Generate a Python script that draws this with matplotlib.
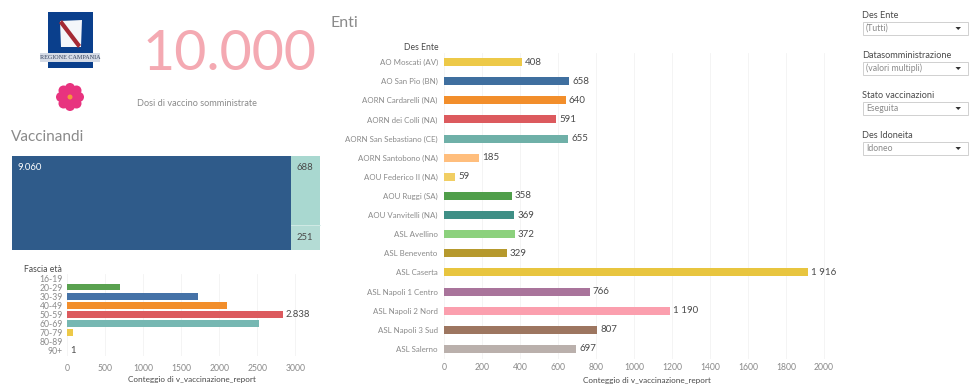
import matplotlib
matplotlib.use("Agg")
import matplotlib.pyplot as plt
from matplotlib.patches import Rectangle, Circle, Polygon

plt.rcParams['font.family'] = ['Lato', 'DejaVu Sans']

W, H = 977, 388

# Dati
fasce = ["16-19", "20-29", "30-39", "40-49", "50-59", "60-69", "70-79", "80-89", "90+"]
fasce_valori = [0, 695, 1720, 2105, 2838, 2525, 80, 0, 1]
fasce_colori = ["#bab0ac", "#59a14f", "#4572a7", "#f28e2b", "#dc5a5e", "#76b7b2", "#edc948", "#bab0ac", "#bab0ac"]

enti = ["AO Moscati (AV)", "AO San Pio (BN)", "AORN Cardarelli (NA)", "AORN dei Colli (NA)",
        "AORN San Sebastiano (CE)", "AORN Santobono (NA)", "AOU Federico II (NA)", "AOU Ruggi (SA)",
        "AOU Vanvitelli (NA)", "ASL Avellino", "ASL Benevento", "ASL Caserta",
        "ASL Napoli 1 Centro", "ASL Napoli 2 Nord", "ASL Napoli 3 Sud", "ASL Salerno"]
enti_valori = [408, 658, 640, 591, 655, 185, 59, 358, 369, 372, 329, 1916, 766, 1190, 807, 697]
enti_colori = ["#edc948", "#3f6f9f", "#f28e2b", "#dc5a5e", "#6fb0a8", "#ffbe7d", "#f1ce63", "#4f9e4a",
               "#3f8f86", "#8cd17d", "#b6992d", "#e8c53f", "#a9749b", "#fb9fae", "#9d7660", "#bab0ac"]

vaccinandi = [9060, 688, 251]
filtri = ["Des Ente", "Datasomministrazione", "Stato vaccinazioni", "Des Idoneita"]
filtri_valori = ["(Tutti)", "(valori multipli)", "Eseguita", "Idoneo"]

GRIGIO = "#8a8a8a"
SCURO = "#4a4a4a"


def crea_assi(x0, y0, x1, y1):
    # rettangolo in pixel, origine in alto a sinistra
    ax = fig.add_axes([x0 / W, 1 - y1 / H, (x1 - x0) / W, (y1 - y0) / H])
    ax.set_facecolor("none")
    for s in ax.spines.values():
        s.set_visible(False)
    return ax


fig = plt.figure(figsize=(W / 100, H / 100), dpi=100, facecolor="white")

# Livello di sfondo in pixel
bg = crea_assi(0, 0, W, H)
bg.set_xlim(0, W)
bg.set_ylim(H, 0)
bg.axis("off")

# Stemma
bg.add_patch(Rectangle((48, 12), 44.5, 56, color="#0a3f8c", lw=0))
bg.add_patch(Polygon([(60, 21), (82, 20), (81, 47), (61, 47)], color="#f4f6fa", lw=0))
bg.add_patch(Polygon([(59, 23), (62, 20), (81, 45), (78, 48)], color="#a52a35", lw=0))
bg.add_patch(Rectangle((40, 53), 60, 9, color="#d5dbe6", lw=0))
bg.text(70, 57.5, "REGIONE CAMPANIA", fontsize=4.4, color="#33405c", ha="center", va="center", family="Liberation Serif")

# Fiore
for dx, dy in [(0, -9), (6.5, -6.5), (9, 0), (6.5, 6.5), (0, 9), (-6.5, 6.5), (-9, 0), (-6.5, -6.5)]:
    bg.add_patch(Circle((70 + dx, 97 + dy), 5, color="#e8337f", lw=0))
bg.add_patch(Circle((70, 97), 6, color="#e8337f", lw=0))
bg.add_patch(Circle((70, 97), 2.5, color="#f4973a", lw=0))

# Titoli e KPI
bg.text(230, 54, "10.000", fontsize=40, color="#f4a9b2", ha="center", va="center")
bg.text(137, 103, "Dosi di vaccino somministrate", fontsize=6.6, color=GRIGIO, va="center")
bg.text(11, 137, "Vaccinandi", fontsize=11, color=GRIGIO, va="center")
bg.text(331, 23, "Enti", fontsize=11.5, color=GRIGIO, va="center")

# Treemap
tx0, tx1, ty0, ty1 = 12, 320, 156, 250
tot = sum(vaccinandi)
xdiv = tx0 + (tx1 - tx0) * vaccinandi[0] / tot
ydiv = ty0 + (ty1 - ty0) * vaccinandi[1] / (vaccinandi[1] + vaccinandi[2])
bg.add_patch(Rectangle((tx0, ty0), xdiv - tx0, ty1 - ty0, color="#2f5b8a", lw=0))
bg.add_patch(Rectangle((xdiv, ty0), tx1 - xdiv, ydiv - ty0, color="#a9d8d0", lw=0))
bg.add_patch(Rectangle((xdiv, ydiv), tx1 - xdiv, ty1 - ydiv, color="#b4dcd5", lw=0))
bg.plot([xdiv, tx1], [ydiv, ydiv], color="#d5ece8", lw=0.6)
bg.text(tx0 + 5, ty0 + 12, f"{vaccinandi[0]:,}".replace(",", "."), fontsize=6.8, color="white", va="center")
bg.text(xdiv + 5, ty0 + 12, str(vaccinandi[1]), fontsize=6.8, color=SCURO, va="center")
bg.text(xdiv + 5, ydiv + 13, str(vaccinandi[2]), fontsize=6.8, color=SCURO, va="center")

# Filtri
for i, (t, v) in enumerate(zip(filtri, filtri_valori)):
    y = 15 + 40 * i
    bg.text(862, y, t, fontsize=6.6, color=SCURO, va="center")
    bg.add_patch(Rectangle((862.5, y + 7), 105.5, 13, fc="white", ec="#d0d0d0", lw=0.7))
    bg.text(866, y + 13.5, v, fontsize=6.2, color=GRIGIO, va="center")
    bg.add_patch(Polygon([(955.5, y + 12), (961, y + 12), (958.2, y + 15)], color="#333333", lw=0))

# Barre fascia eta
ax1 = crea_assi(67, 273.5, 320, 355.5)
ax1.barh(range(len(fasce)), fasce_valori, height=0.72, color=fasce_colori, zorder=3)
ax1.set_ylim(len(fasce) - 0.5, -0.5)
ax1.set_xlim(0, 253 / 0.0761)
ax1.set_xticks([0, 500, 1000, 1500, 2000, 2500, 3000])
ax1.set_xticklabels(["0", "500", "1000", "1500", "2000", "2500", "3000"])
ax1.set_yticks(range(len(fasce)))
ax1.set_yticklabels(fasce)
ax1.tick_params(length=0, labelsize=6.2, labelcolor=GRIGIO, pad=3)
ax1.tick_params(axis="x", pad=6)
ax1.grid(axis="x", color="#f3f3f3", lw=0.6, zorder=0)
ax1.set_xlabel("Conteggio di v_vaccinazione_report", fontsize=5.9, color=SCURO)
ax1.xaxis.set_label_coords(0.494, -0.25)
ax1.text(2838 + 40, 4, "2.838", fontsize=6.8, color=SCURO, va="center")
ax1.text(1 + 40, 8, "1", fontsize=6.8, color=SCURO, va="center")
bg.text(62, 269, "Fascia età", fontsize=6.2, color=SCURO, ha="right", va="center")

# Barre enti
ax2 = crea_assi(444, 52.5, 850, 358.5)
ax2.barh(range(len(enti)), enti_valori, height=0.42, color=enti_colori, zorder=3)
ax2.set_ylim(len(enti) - 0.5, -0.5)
ax2.set_xlim(0, 406 / 0.19)
ax2.set_xticks(range(0, 2001, 200))
ax2.set_yticks(range(len(enti)))
ax2.set_yticklabels(enti)
ax2.tick_params(length=0, labelsize=6.2, labelcolor=GRIGIO)
ax2.tick_params(axis="y", pad=4.5, labelsize=5.7)
ax2.tick_params(axis="x", pad=3)
ax2.grid(axis="x", color="#f3f3f3", lw=0.6, zorder=0)
ax2.set_xlabel("Conteggio di v_vaccinazione_report", fontsize=5.9, color=SCURO)
ax2.xaxis.set_label_coords(0.5, -0.06)
for i, v in enumerate(enti_valori):
    testo = f"{v:,}".replace(",", " ")
    ax2.text(v + 16, i, testo, fontsize=7, color=SCURO, va="center")
bg.text(439, 48, "Des Ente", fontsize=6.2, color=SCURO, ha="right", va="center")

fig.savefig("out.png", dpi=100)
